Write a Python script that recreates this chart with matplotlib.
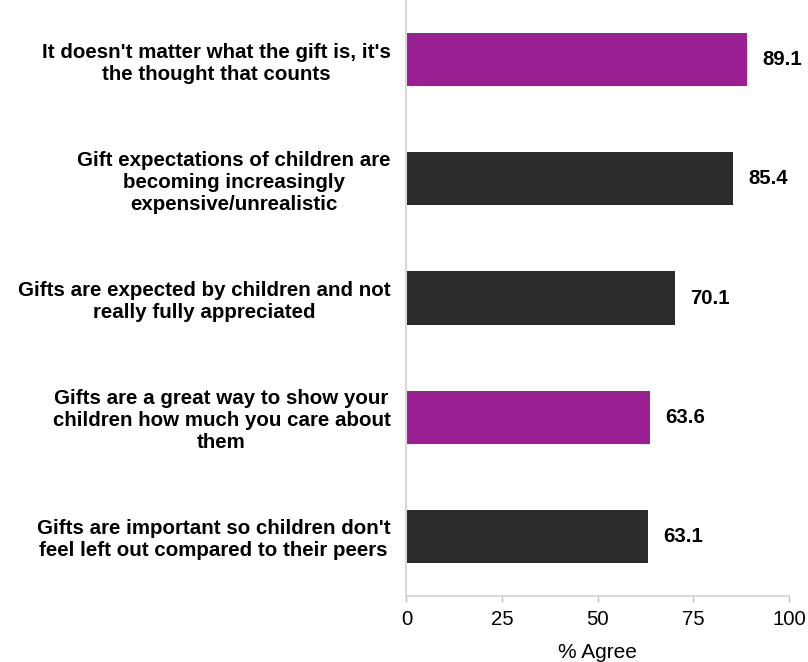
import matplotlib
matplotlib.use("Agg")
import matplotlib.pyplot as plt

plt.rcParams['font.family'] = ['Liberation Sans', 'DejaVu Sans']

categories = [
    "It doesn't matter what the gift is, it's\nthe thought that counts",
    "Gift expectations of children are\nbecoming increasingly\nexpensive/unrealistic",
    "Gifts are expected by children and not\nreally fully appreciated",
    "Gifts are a great way to show your\nchildren how much you care about\nthem",
    "Gifts are important so children don't\nfeel left out compared to their peers",
]
values = [89.1, 85.4, 70.1, 63.6, 63.1]
highlight = [True, False, False, True, False]
xticks = [0, 25, 50, 75, 100]
xlabel = "% Agree"

PURPLE = "#9a1f92"
DARK = "#2b2b2b"

fig = plt.figure(figsize=(8.08, 6.62), dpi=100)
ax = fig.add_axes([406.5 / 808, 1 - 596 / 662, (789 - 406.5) / 808, 596 / 662])

ypos = list(range(len(categories)))
colors = [PURPLE if h else DARK for h in highlight]
bars = ax.barh(ypos, values, height=0.445, color=colors, edgecolor='none')

for y, v in zip(ypos, values):
    ax.annotate(f"{v:.1f}", xy=(v, y), xytext=(11, 0), textcoords='offset points',
                ha='left', va='center', fontsize=14.7, fontweight='bold', color='black')

ax.set_xlim(0, 100)
ax.set_ylim(4.5, -0.5)
ax.set_xticks(xticks)
ax.set_xticklabels([str(t) for t in xticks], fontsize=14.7)
ax.set_yticks(ypos)
ax.set_yticklabels(categories, fontsize=14.8, fontweight='bold')
for lab in ax.get_yticklabels():
    lab.set_multialignment('center')
    lab.set_linespacing(1.2)
ax.tick_params(axis='y', length=0, pad=11.5)
ax.tick_params(axis='x', length=4, width=1, color='#bfbfbf', pad=6)
ax.set_xlabel(xlabel, fontsize=15, labelpad=10)

for s in ['top', 'right']:
    ax.spines[s].set_visible(False)
for s in ['left', 'bottom']:
    ax.spines[s].set_color('#d9d9d9')
    ax.spines[s].set_linewidth(1.5)

fig.savefig("out.png", dpi=100)
